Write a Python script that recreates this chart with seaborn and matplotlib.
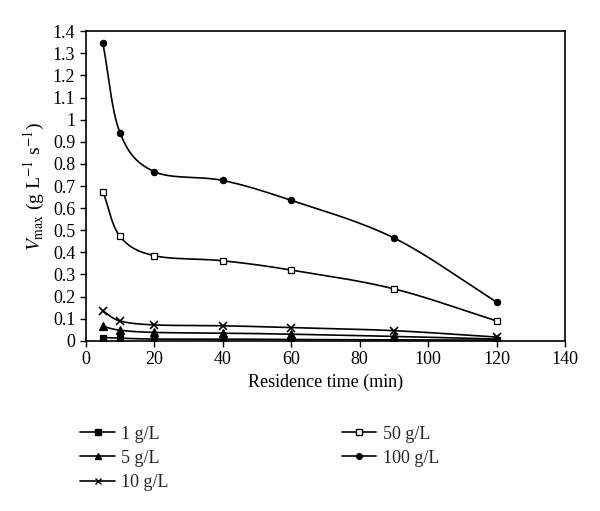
import numpy as np
import pandas as pd
import matplotlib.pyplot as plt
import seaborn as sns
from matplotlib.lines import Line2D

# data
time_min = [5, 10, 20, 40, 60, 90, 120]
v_1 = [0.015, 0.012, 0.008, 0.008, 0.006, 0.005, 0.003]
v_5 = [0.065, 0.048, 0.038, 0.035, 0.030, 0.020, 0.008]
v_10 = [0.135, 0.090, 0.072, 0.068, 0.060, 0.046, 0.017]
v_50 = [0.675, 0.472, 0.385, 0.362, 0.320, 0.235, 0.090]
v_100 = [1.345, 0.940, 0.765, 0.725, 0.635, 0.465, 0.175]
labels = ["1 g/L", "5 g/L", "10 g/L", "50 g/L", "100 g/L"]

series = [v_1, v_5, v_10, v_50, v_100]
markers = ["s", "^", "x", "s", "o"]
faces = ["black", "black", "black", "white", "black"]
sizes = [5, 5.5, 5.5, 4.5, 4.5]


def smooth(x, y, n=30):
    # Catmull-Rom curve through the points (like a spreadsheet smoothed line)
    x = np.asarray(x, float)
    y = np.asarray(y, float)
    px = np.concatenate([[2 * x[0] - x[1]], x, [2 * x[-1] - x[-2]]])
    py = np.concatenate([[2 * y[0] - y[1]], y, [2 * y[-1] - y[-2]]])
    xs, ys = [], []
    t = np.linspace(0, 1, n)
    for i in range(1, len(px) - 2):
        for p, out in ((px, xs), (py, ys)):
            p0, p1, p2, p3 = p[i - 1], p[i], p[i + 1], p[i + 2]
            out.extend(0.5 * (2 * p1 + (-p0 + p2) * t
                              + (2 * p0 - 5 * p1 + 4 * p2 - p3) * t ** 2
                              + (-p0 + 3 * p1 - 3 * p2 + p3) * t ** 3))
    return np.array(xs), np.array(ys)


df = pd.DataFrame({"t": time_min * 5,
                   "v": sum(series, []),
                   "conc": np.repeat(labels, len(time_min))})

sns.set_theme(style="ticks")
plt.rcParams["font.family"] = ["Liberation Serif", "DejaVu Serif"]
plt.rcParams["mathtext.fontset"] = "stix"

fig = plt.figure(figsize=(6, 5.11), dpi=100)
ax = fig.add_axes([0.143, 0.333, 0.799, 0.606])

handles = []
for lab, m, fc, ms in zip(labels, markers, faces, sizes):
    sub = df[df["conc"] == lab]
    xs, ys = smooth(sub["t"], sub["v"])
    ax.plot(xs, np.clip(ys, 0, None), color="black", lw=1.2)
    sns.lineplot(data=sub, x="t", y="v", ax=ax, linestyle="none",
                 marker=m, markersize=ms, color="black",
                 markerfacecolor=fc, markeredgecolor="black",
                 markeredgewidth=1.2 if m == "x" else 0.9, legend=False)
    handles.append(Line2D([], [], color="black", lw=1.2, marker=m,
                          markersize=ms - 0.5, markerfacecolor=fc,
                          markeredgecolor="black"))

ax.set_xlim(0, 140)
ax.set_ylim(0, 1.4)
ax.set_xticks(np.arange(0, 141, 20))
ax.set_yticks(np.round(np.arange(0, 1.41, 0.1), 1))
ax.set_yticklabels([f"{v:g}" for v in np.round(np.arange(0, 1.41, 0.1), 1)])
for s in ax.spines.values():
    s.set_color("black")
    s.set_linewidth(1.2)
ax.tick_params(labelsize=13, colors="black", length=4, width=1)
ax.set_xlabel("Residence time (min)", fontsize=13, color="black")
ax.set_ylabel(r"$V_{\mathrm{max}}$ (g L$^{-1}$ s$^{-1}$)", fontsize=14,
              color="black")

fig.legend(handles, labels, loc="upper left", bbox_to_anchor=(0.107, 0.199),
           ncol=2, frameon=False, fontsize=13, columnspacing=9.6,
           handlelength=1.9, labelspacing=0.4, handletextpad=0.35)

fig.savefig("out.png", dpi=100)
